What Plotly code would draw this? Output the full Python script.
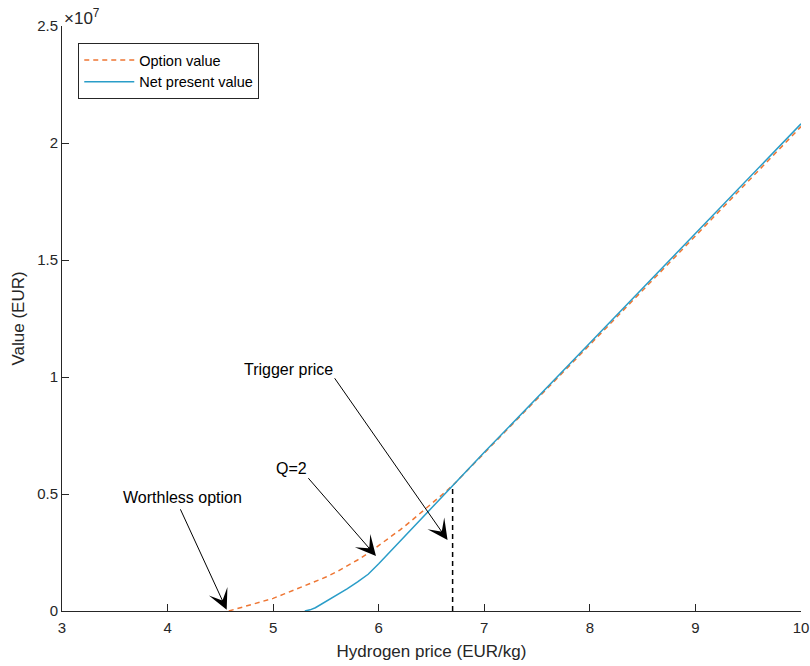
import plotly.graph_objects as go

# ---- data ----
opt_x = [4.58, 4.7, 4.8, 4.9, 5.0, 5.1, 5.2, 5.3, 5.4, 5.5, 5.6, 5.7, 5.8, 5.9,
         6.0, 6.1, 6.2, 6.3, 6.4, 6.5, 6.6, 6.7, 7.0, 8.0, 9.0, 10.0]
opt_y = [0.0, 0.15e6, 0.28e6, 0.41e6, 0.54e6, 0.72e6, 0.90e6, 1.07e6, 1.25e6,
         1.45e6, 1.67e6, 1.91e6, 2.18e6, 2.47e6, 2.79e6, 3.11e6, 3.46e6,
         3.82e6, 4.19e6, 4.56e6, 4.97e6, 5.36e6, 6.74e6, 11.38e6, 16.03e6, 20.70e6]

npv_x = [5.30, 5.35, 5.4, 5.5, 5.6, 5.7, 5.8, 5.9, 6.0, 6.1, 6.2, 6.3, 6.4, 6.5,
         6.6, 6.7, 7.0, 8.0, 9.0, 10.0]
npv_y = [0.0, 0.05e6, 0.14e6, 0.40e6, 0.67e6, 0.95e6, 1.24e6, 1.57e6, 2.02e6,
         2.50e6, 2.98e6, 3.46e6, 3.94e6, 4.42e6, 4.90e6, 5.38e6, 6.78e6,
         11.45e6, 16.13e6, 20.82e6]

trigger_x = [6.7, 6.7]
trigger_y = [0.0, 5.38e6]

x_ticks = [3, 4, 5, 6, 7, 8, 9, 10]
y_ticks = [0, 0.5e7, 1.0e7, 1.5e7, 2.0e7, 2.5e7]
y_ticktext = ["0", "0.5", "1", "1.5", "2", "2.5"]

# annotations: (text, text_x, text_y, tail_x, tail_y, tip_x, tip_y)
notes = [
    ("Worthless option", 4.145, 4.83e6, 4.115, 4.41e6, 4.56, 0.05e6),
    ("Q=2", 5.174, 6.07e6, 5.321, 5.74e6, 5.974, 2.35e6),
    ("Trigger price", 5.147, 10.34e6, 5.573, 10.01e6, 6.652, 3.03e6),
]

ORANGE = "#EE7633"
BLUE = "#2A9DC8"
AX = "#262626"
FONT = "Liberation Sans, Arial, Helvetica, sans-serif"

fig = go.Figure()
fig.add_trace(go.Scatter(x=opt_x, y=opt_y, mode="lines", name="Option value",
                         line=dict(color=ORANGE, width=1.5, dash="5px,4px")))
fig.add_trace(go.Scatter(x=npv_x, y=npv_y, mode="lines", name="Net present value",
                         line=dict(color=BLUE, width=1.5)))
fig.add_trace(go.Scatter(x=trigger_x, y=trigger_y, mode="lines", showlegend=False,
                         line=dict(color="black", width=1.5, dash="5px,4px")))

for text, tx, ty, ax_, ay_, px, py in notes:
    fig.add_annotation(x=px, y=py, ax=ax_, ay=ay_, xref="x", yref="y",
                       axref="x", ayref="y", text="", showarrow=True,
                       arrowhead=3, arrowsize=3.4, arrowwidth=1, arrowcolor="black",
                       standoff=0, startstandoff=0)
    fig.add_annotation(x=tx, y=ty, xref="x", yref="y", text=text, showarrow=False,
                       xanchor="center", yanchor="middle",
                       font=dict(size=16, color="black", family=FONT))

# exponent label
fig.add_annotation(x=0, y=1, xref="paper", yref="paper", xanchor="left",
                   yanchor="bottom", xshift=0, yshift=-4,
                   text="\u00d710<sup>7</sup>", showarrow=False,
                   font=dict(size=17, color=AX, family=FONT))

fig.update_layout(
    width=810, height=666,
    margin=dict(l=62, r=9, t=26, b=55, autoexpand=False),
    plot_bgcolor="white", paper_bgcolor="white",
    font=dict(family=FONT, color=AX, size=15),
    showlegend=True,
    legend=dict(x=0.022, y=0.971, xanchor="left", yanchor="top",
                bgcolor="white", bordercolor=AX, borderwidth=1,
                font=dict(size=14.5, color="black", family=FONT),
                tracegroupgap=0, itemwidth=50),
    xaxis=dict(range=[3, 10], tickvals=x_ticks, showline=True, linecolor=AX,
               linewidth=1, ticks="inside", ticklen=7, tickcolor=AX,
               showgrid=False, zeroline=False, mirror=False,
               ticklabelstandoff=3,
               tickfont=dict(size=15, color=AX),
               title=dict(text="Hydrogen price (EUR/kg)", standoff=10,
                          font=dict(size=17, color=AX))),
    yaxis=dict(range=[0, 2.5e7], tickvals=y_ticks, ticktext=y_ticktext,
               showline=True, linecolor=AX, linewidth=1, ticks="inside",
               ticklen=7, tickcolor=AX, showgrid=False, zeroline=False,
               mirror=False, tickfont=dict(size=15, color=AX),
               title=dict(text="Value (EUR)", standoff=8,
                          font=dict(size=17, color=AX))),
)

fig.write_html("out.html")
